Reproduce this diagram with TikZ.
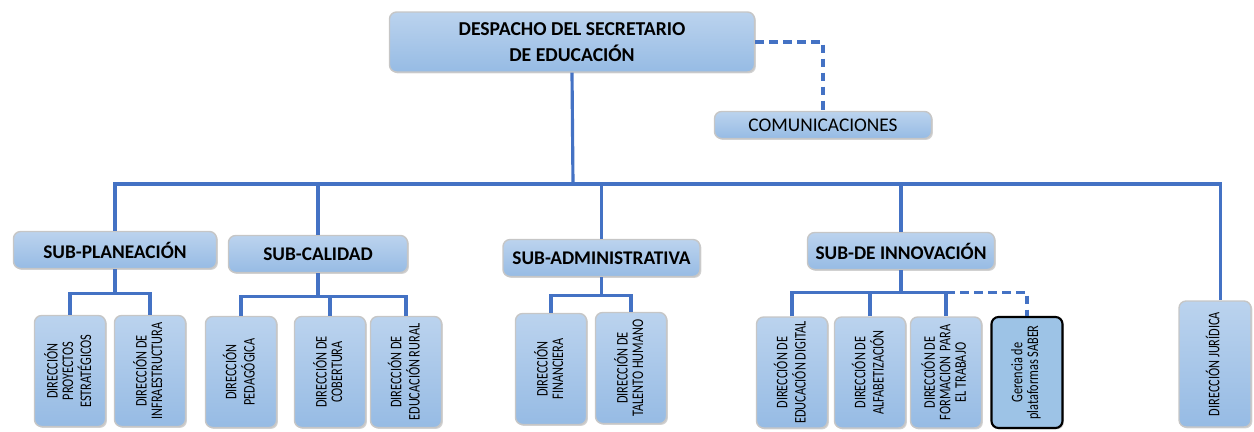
\documentclass[tikz,border=0pt]{standalone}
\usepackage{fontspec}
\setmainfont{Carlito}
\newfontfamily\narrowfont[FakeStretch=0.76]{Carlito}
\usetikzlibrary{shadows}
\definecolor{boxtop}{RGB}{187,211,238}
\definecolor{boxbot}{RGB}{150,187,228}
\definecolor{linkblue}{RGB}{68,114,196}
\definecolor{saberfill}{RGB}{157,195,230}
\newcommand{\vtext}[1]{\rotatebox{90}{\narrowfont\fontsize{9.2}{8.8}\selectfont\begin{tabular}{@{}c@{}}#1\end{tabular}}}
\begin{document}
\begin{tikzpicture}
[x=1cm, y=1cm,
% STYLES
% The unit style is used for every box of the chart
unit/.style={rectangle, rounded corners=4pt, draw=gray!45, line width=0.8pt, top color=boxtop, bottom color=boxbot, inner sep=2pt, align=center, drop shadow={opacity=0.35, shadow xshift=0.8pt, shadow yshift=-0.8pt}},
head/.style={unit, font=\fontsize{11.2}{15}\selectfont\bfseries},
sub/.style={unit, font=\fontsize{11}{13}\selectfont\bfseries, minimum height=0.74cm},
dir/.style={unit, minimum width=1.42cm, minimum height=2.22cm},
link/.style={draw=linkblue, line width=1.8pt},
dashlink/.style={link, dashed, dash pattern=on 5pt off 3pt}]

\useasboundingbox (0,0) rectangle (25.08,-8.62);

% Top level
\node [head, minimum width=7.3cm, minimum height=1.2cm] (despacho) at (11.44,-0.84) {DESPACHO DEL SECRETARIO\\DE EDUCACIÓN};
\node [unit, minimum width=4.34cm, minimum height=0.54cm, font=\fontsize{11}{13}\selectfont] (comunic) at (16.46,-2.5) {COMUNICACIONES};
\coordinate (bus) at (11.46,-3.68);

% Sub-secretarias
\node [sub, minimum width=4.06cm] (planea) at (2.3,-5.0) {SUB-PLANEACIÓN};
\node [sub, minimum width=3.58cm] (calidad) at (6.36,-5.08) {SUB-CALIDAD};
\node [sub, minimum width=3.94cm] (admin) at (12.03,-5.16) {SUB-ADMINISTRATIVA};
\node [sub, minimum width=3.74cm] (innov) at (18.02,-5.02) {SUB-DE INNOVACIÓN};
\node [dir, minimum width=1.44cm, minimum height=2.52cm] (juridica) at (24.3,-7.28) {\vtext{DIRECCIÓN JURÍDICA}};

% Direcciones
\node [dir] (proyectos) at (1.4,-7.42) {\vtext{DIRECCIÓN\\PROYECTOS\\ESTRATÉGICOS}};
\node [dir] (infra) at (3.0,-7.42) {\vtext{DIRECCIÓN DE\\INFRAESTRUCTURA}};
\node [dir] (pedagogica) at (4.82,-7.44) {\vtext{DIRECCIÓN\\PEDAGÓGICA}};
\node [dir] (cobertura) at (6.6,-7.44) {\vtext{DIRECCIÓN DE\\COBERTURA}};
\node [dir] (rural) at (8.12,-7.44) {\vtext{DIRECCIÓN DE\\EDUCACIÓN RURAL}};
\node [dir] (financiera) at (11.02,-7.38) {\vtext{DIRECCIÓN\\FINANCIERA}};
\node [dir] (talento) at (12.62,-7.36) {\vtext{DIRECCIÓN DE\\TALENTO HUMANO}};
\node [dir] (digital) at (15.84,-7.45) {\vtext{DIRECCIÓN DE\\EDUCACIÓN DIGITAL}};
\node [dir] (alfabet) at (17.4,-7.45) {\vtext{DIRECCIÓN DE\\ALFABETIZACIÓN}};
\node [dir] (formacion) at (18.92,-7.45) {\vtext{DIRECCIÓN DE\\FORMACION~ PARA\\EL TRABAJO}};
\node [dir, draw=black, line width=1.2pt, top color=saberfill, bottom color=saberfill] (saber) at (20.54,-7.45) {\vtext{Gerencia de\\plataformas SABER}};

% Connectors
\draw [dashlink] (despacho.east) -| (comunic.north);
\draw [link] (despacho.south) -- (bus);
\draw [link] (planea.north) |- (bus) -| ([xshift=3pt]juridica.north);
\draw [link] (calidad.north) -- (calidad.north |- bus);
\draw [link] (admin.north) -- (admin.north |- bus);
\draw [link] (innov.north) -- (innov.north |- bus);

\draw [link] (planea.south) -- ++(0,-0.48) coordinate (pb);
\draw [link] (proyectos.north) |- (pb) -| (infra.north);
\draw [link] (calidad.south) -- ++(0,-0.46) coordinate (cb);
\draw [link] (pedagogica.north) |- (cb) -| (rural.north);
\draw [link] (cobertura.north) -- (cobertura.north |- cb);
\draw [link] (admin.south) -- ++(0,-0.36) coordinate (ab);
\draw [link] (financiera.north) |- (ab) -| (talento.north);
\draw [link] (innov.south) -- ++(0,-0.44) coordinate (ib);
\draw [link] (digital.north) |- (ib) -| (formacion.north);
\draw [link] (alfabet.north) -- (alfabet.north |- ib);
\draw [dashlink] (formacion.north |- ib) -| (saber.north);

\end{tikzpicture}
\end{document}
